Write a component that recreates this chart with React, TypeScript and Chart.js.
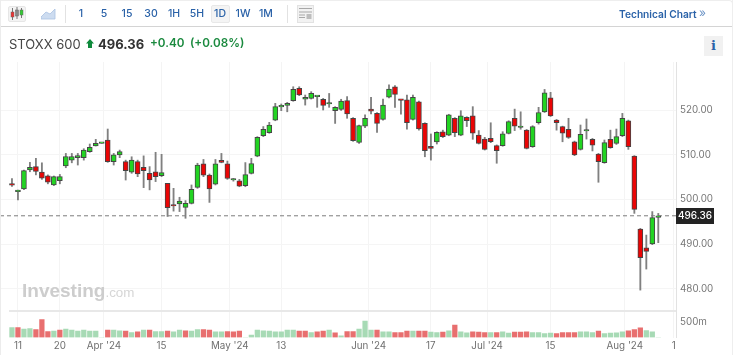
import React, { useEffect, useRef } from "react";
import { Chart, registerables } from "chart.js";

Chart.register(...registerables);

const opens = [503.4,501.75,502.35,506.6,507.35,506.1,505.3,503.25,504.2,507.5,508.8,509.35,509.35,510.7,512.0,512.55,513.3,508.45,509.95,508.45,506.1,508.45,507.2,505.85,506.2,505.35,503.6,498.6,499.0,498.25,499.15,502.7,507.95,505.45,503.45,508.75,507.95,504.35,504.15,503.1,505.85,509.7,514.25,514.95,517.75,520.7,521.05,522.1,524.85,522.4,522.6,523.0,522.4,521.35,519.85,520.15,522.1,518.15,512.75,516.4,520.2,519.25,517.9,522.85,525.2,522.2,522.25,517.9,521.85,517.0,511.9,512.85,515.15,514.4,518.15,514.4,518.35,518.7,514.4,513.5,513.65,512.05,512.05,514.75,518.15,516.1,515.5,511.8,517.15,519.6,522.75,517.75,516.3,515.7,512.9,511.2,515.3,513.45,510.15,508.25,513.45,512.55,514.25,517.6,509.7,493.4,489.2,490.05,496.0];
const highs = [504.7,502.1,506.6,508.3,509.2,508.2,505.5,505.25,505.6,510.3,510.3,510.3,511.35,512.4,513.45,512.55,515.75,510.3,511.05,508.8,509.55,508.8,509.75,507.35,510.55,510.1,503.6,502.5,500.5,499.75,503.25,508.1,508.95,505.7,508.95,510.3,508.6,504.7,504.5,508.25,509.2,514.05,516.3,517.25,521.5,521.35,521.7,525.2,525.2,523.35,524.1,523.15,522.6,523.7,520.75,522.4,523.0,518.3,516.65,518.9,522.85,519.45,522.45,525.6,525.45,522.25,523.35,523.35,522.0,517.15,514.65,515.15,515.5,519.05,518.3,519.85,518.5,520.75,515.4,513.9,517.15,512.2,515.15,517.6,520.2,519.6,515.65,516.5,520.6,524.6,523.95,517.9,516.4,518.15,513.05,516.65,518.0,513.65,510.3,513.3,515.5,515.75,519.25,517.75,509.8,493.55,492.05,497.3,496.9];
const lows = [502.9,499.9,502.2,506.2,505.5,504.5,503.5,503.1,503.5,507.1,508.2,507.7,508.8,510.55,511.95,512.55,508.3,507.7,509.35,504.35,505.85,505.1,502.65,502.15,504.0,505.1,496.2,497.4,497.3,495.8,499.0,502.5,505.1,499.35,503.25,508.2,504.5,504.1,502.85,502.85,505.7,509.55,514.05,514.8,517.6,519.85,519.6,521.95,523.2,521.1,522.45,520.6,520.0,520.6,517.0,519.9,518.15,513.0,512.55,516.05,519.1,515.0,517.75,522.7,520.6,519.05,515.7,517.75,515.5,509.55,508.8,512.4,513.85,514.25,514.05,514.25,516.3,513.45,512.4,511.05,512.7,508.1,511.9,514.65,515.4,515.7,511.3,511.65,516.85,519.45,518.55,515.5,512.9,513.65,509.8,511.05,513.5,510.85,503.85,508.1,511.45,512.3,514.05,511.2,496.9,479.75,484.45,489.9,490.35];
const closes = [503.2,501.75,506.45,507.2,506.25,504.75,503.85,505.1,505.1,509.6,509.6,509.8,511.05,511.65,512.55,512.55,508.45,510.0,510.7,506.45,508.8,505.7,506.45,504.35,505.1,506.0,498.2,498.55,499.65,499.15,502.25,507.7,505.45,502.35,507.95,508.3,504.7,504.35,503.0,505.55,508.05,513.9,515.7,516.65,520.75,520.75,521.5,524.6,523.4,522.85,523.7,523.0,521.05,521.35,520.6,522.0,519.1,513.15,516.5,518.15,519.75,517.0,521.1,524.7,523.5,522.15,517.15,522.85,515.75,510.9,511.4,515.0,514.05,518.9,514.95,518.7,517.6,514.8,512.55,511.2,512.9,510.9,514.65,517.4,516.4,516.1,511.4,516.3,519.45,523.85,518.7,517.15,514.8,513.9,509.95,514.55,515.3,512.15,508.45,512.7,511.6,514.05,518.15,511.8,497.8,487.0,488.4,495.95,496.36];
const volumes = [327,327,273,294,262,589,196,207,240,273,240,207,240,207,207,0,240,240,218,207,164,185,240,240,196,196,207,185,240,218,207,262,262,240,185,185,196,185,207,0,76,240,218,207,185,185,240,240,207,207,164,185,207,240,153,55,196,196,273,534,240,240,185,185,164,164,207,207,207,207,174,164,174,218,403,185,153,185,174,164,164,164,185,142,174,174,185,164,164,131,142,131,164,164,164,185,185,164,207,131,142,153,185,218,262,316,229,185,0];
const volumeUp = [1,0,1,1,0,0,0,1,0,1,1,1,1,1,1,1,0,1,1,0,1,0,1,0,1,1,0,1,1,0,1,1,0,0,1,1,0,0,0,1,1,1,1,1,1,1,1,1,0,0,1,0,0,1,0,1,0,0,1,1,1,0,1,1,0,0,0,1,0,0,1,1,0,1,0,1,1,0,0,0,1,0,1,1,0,0,0,1,1,1,1,0,0,0,0,1,1,1,0,1,1,1,1,0,0,0,1,1,1];
const tickIndex = [1,8,15.37,25,36.4,45,59.6,70,79.4,90,102.4,110.6];
const tickLabels = ["11","20","Apr '24","15","May '24","13","Jun '24","17","Jul '24","15","Aug '24","1"];
const priceTicks = [480,490,500,510,520];
const volumeTicks = [500];
const lastPrice = 496.36;
const intervals = ["1","5","15","30","1H","5H","1D","1W","1M"];

const FONT = "Inter, 'Liberation Sans', sans-serif";

const lastTag = {
  id: "lastTag",
  afterDraw(chart: any) {
    const { ctx, scales, chartArea } = chart;
    const y = scales.y.getPixelForValue(lastPrice);
    ctx.save();
    ctx.fillStyle = "#232323";
    ctx.fillRect(chartArea.right, Math.round(y) - 8, 38, 16);
    ctx.fillStyle = "#fff";
    ctx.font = "500 10px " + FONT;
    ctx.textAlign = "center";
    ctx.textBaseline = "middle";
    ctx.fillText(lastPrice.toFixed(2), chartArea.right + 19, y + 0.5);
    ctx.restore();
  },
};

export default function App() {
  const ref = useRef<HTMLCanvasElement>(null);
  useEffect(() => {
    const idx = opens.map((_, i) => i);
    const fixWidth = (w: number) => (s: any) => { s.width = w; s.paddingTop = 0; s.paddingBottom = 0; };
    const chart = new Chart(ref.current!, {
      type: "bar",
      data: {
        datasets: [
          {
            label: "Volume",
            yAxisID: "v",
            grouped: false,
            barThickness: 4.6,
            data: idx.map((i) => ({ x: i, y: volumes[i] })),
            backgroundColor: idx.map((i) => (volumeUp[i] ? "#a7dab5" : "#e86f6f")),
            order: 4,
          },
          {
            type: "line",
            label: "Last",
            yAxisID: "y",
            data: [{ x: -2, y: lastPrice }, { x: 111, y: lastPrice }],
            borderColor: "#7c7c7c",
            borderWidth: 1,
            borderDash: [4, 3],
            pointRadius: 0,
            order: 3,
          },
          {
            label: "Range",
            yAxisID: "y",
            grouped: false,
            barThickness: 1.2,
            data: idx.map((i) => ({ x: i, y: [lows[i], highs[i]] })),
            backgroundColor: "#808080",
            order: 2,
          },
          {
            label: "Body",
            yAxisID: "y",
            grouped: false,
            barThickness: 5,
            minBarLength: 1.5,
            borderSkipped: false,
            borderWidth: 1,
            borderColor: "#454545",
            data: idx.map((i) => ({ x: i, y: [opens[i], closes[i]] })),
            backgroundColor: idx.map((i) => (closes[i] >= opens[i] ? "#22d422" : "#ea0505")),
            order: 1,
          },
        ] as any,
      },
      options: {
        responsive: false,
        animation: false,
        events: [],
        layout: { autoPadding: false, padding: { top: 62, left: 0, right: 0, bottom: 0 } },
        plugins: { legend: { display: false }, tooltip: { enabled: false } },
        scales: {
          x: {
            type: "linear",
            offset: false,
            min: -2,
            max: 110.96,
            afterBuildTicks: (s: any) => { s.ticks = tickIndex.map((value) => ({ value })); },
            afterFit: (s: any) => { s.height = 17.5; s.paddingLeft = 0; s.paddingRight = 0; },
            ticks: {
              autoSkip: false,
              maxRotation: 0,
              padding: 3,
              color: "#6f6f6f",
              font: { family: FONT, size: 9.8 },
              callback: (v: any) => tickLabels[tickIndex.indexOf(v)] ?? "",
            },
            grid: { offset: false, color: "#f4f4f4", drawTicks: false },
            border: { display: false },
          },
          y: {
            position: "right",
            stack: "pane",
            stackWeight: 249,
            min: 475.08,
            max: 530.73,
            afterBuildTicks: (s: any) => { s.ticks = priceTicks.map((value) => ({ value })); },
            afterFit: fixWidth(61),
            ticks: {
              padding: 4,
              color: "#777",
              font: { family: FONT, size: 9.8 },
              callback: (v: any) => Number(v).toFixed(2),
            },
            grid: { color: "#f5f5f5", drawTicks: false },
            border: { color: "#e2e2e2" },
          },
          v: {
            position: "right",
            stack: "pane",
            stackWeight: 26.5,
            min: 0,
            max: 866,
            afterBuildTicks: (s: any) => { s.ticks = volumeTicks.map((value) => ({ value })); },
            afterFit: fixWidth(61),
            ticks: {
              padding: 4,
              color: "#777",
              font: { family: FONT, size: 9.8 },
              callback: (v: any) => v + "m",
            },
            grid: { display: false, drawTicks: false },
            border: { color: "#e2e2e2" },
          },
        },
      } as any,
      plugins: [lastTag],
    });
    return () => chart.destroy();
  }, []);

  const blue = "#2a62a8";
  const abs = (o: React.CSSProperties): React.CSSProperties => ({ position: "absolute", ...o });
  const xs = [81, 104, 127, 151, 174, 197, 220, 243, 266];

  return (
    <div style={abs({ left: 0, top: 0, width: 737, height: 355, overflow: "hidden", background: "#fff", fontFamily: FONT })}>
      <canvas ref={ref} width={737} height={355} style={abs({ left: 0, top: 0, display: "block" })} />
      <div style={abs({ left: 0, top: 0, width: 733, height: 27, borderTop: "1px solid #eee", borderRight: "1px solid #eee", borderRadius: "0 4px 0 0", borderBottom: "1px solid #d4d4d4", boxSizing: "border-box" })} />
      <div style={abs({ left: 0, top: 0, width: 1, height: 355, background: "#ececec" })} />
      <div style={abs({ left: 732, top: 0, width: 1, height: 355, background: "#eeeeee" })} />
      <div style={abs({ left: 8, top: 6, width: 18, height: 16, background: "#f3f3f3", border: "1px solid #e6e6e6", borderRadius: 2, boxSizing: "border-box" })} />
      <svg style={abs({ left: 9, top: 6 })} width={16} height={16}>
        <path d="M3.5 2V14M8 1V13M12.5 2V12" stroke="#777" strokeWidth={1} />
        <rect x={2} y={6} width={3} height={5} fill="#ee3333" stroke="#666" strokeWidth={0.5} />
        <rect x={6.5} y={4} width={3} height={6} fill="#888" stroke="#666" strokeWidth={0.5} />
        <rect x={11} y={4} width={3} height={5} fill="#33cc33" stroke="#666" strokeWidth={0.5} />
      </svg>
      <svg style={abs({ left: 41, top: 8 })} width={15} height={12}>
        <path d="M0 9L5 4L9 6L14 1V11H0Z" fill="#cddcf0" stroke="#a9c2e2" strokeWidth={0.8} />
      </svg>
      <div style={abs({ left: 65, top: 5, width: 1, height: 18, background: "#e2e2e2" })} />
      <div style={abs({ left: 211, top: 5, width: 19, height: 18, background: "#f4f4f4", border: "1px solid #e8e8e8", borderRadius: 2, boxSizing: "border-box" })} />
      {intervals.map((t, i) => (
        <div key={t} style={abs({ left: xs[i] - 15, width: 30, top: 6, height: 16, lineHeight: "16px", textAlign: "center", fontSize: 10.5, fontWeight: 500, color: blue })}>{t}</div>
      ))}
      <div style={abs({ left: 287, top: 5, width: 1, height: 18, background: "#e2e2e2" })} />
      <div style={abs({ left: 297, top: 5, width: 17, height: 18, background: "#f2f2f2", border: "1px solid #e2e2e2", boxSizing: "border-box" })} />
      <svg style={abs({ left: 299, top: 8 })} width={13} height={12}>
        <path d="M0 0.5H13M0 4H13M0 7H6M0 9.5H6" stroke="#a8a8a8" strokeWidth={1.2} />
        <rect x={7.5} y={6} width={5} height={5} fill="#bdbdbd" />
      </svg>
      <div style={abs({ left: 619, top: 6, height: 16, lineHeight: "16px", fontSize: 10.2, fontWeight: 600, color: blue, whiteSpace: "nowrap" })}>Technical Chart</div>
      <div style={abs({ left: 699, top: 5, height: 16, lineHeight: "16px", fontSize: 12, color: "#6d94c6" })}>»</div>
      <div style={abs({ left: 9, top: 35, height: 18, lineHeight: "18px", fontSize: 13, color: "#444", whiteSpace: "nowrap" })}>STOXX 600</div>
      <svg style={abs({ left: 86, top: 39 })} width={8} height={10}>
        <path d="M4 0L8 4.5H6V9H2V4.5H0Z" fill="#0f8a3c" />
      </svg>
      <div style={abs({ left: 98, top: 35, height: 18, lineHeight: "18px", fontSize: 13, fontWeight: 700, color: "#333", whiteSpace: "nowrap" })}>496.36</div>
      <div style={abs({ left: 150, top: 34, height: 18, lineHeight: "18px", fontSize: 11.7, fontWeight: 600, color: "#1b8a3f", whiteSpace: "nowrap" })}>+0.40</div>
      <div style={abs({ left: 190, top: 34, height: 18, lineHeight: "18px", fontSize: 11.7, fontWeight: 600, color: "#1b8a3f", whiteSpace: "nowrap" })}>(+0.08%)</div>
      <div style={abs({ left: 704, top: 36, width: 19, height: 20, lineHeight: "20px", textAlign: "center", background: "#f1f1f1", color: blue, fontFamily: "'DejaVu Serif', serif", fontWeight: 700, fontSize: 13 })}>i</div>
      <div style={abs({ left: 9, top: 310, width: 667, height: 2, background: "#e8e8e8" })} />
      <div style={abs({ left: 22, top: 278, height: 26, lineHeight: "26px", whiteSpace: "nowrap", color: "#cdcdcd", fontFamily: "'Liberation Sans', sans-serif", fontWeight: 700, fontSize: 19 })}>
        Investing<span style={{ fontWeight: 400, fontSize: 13.4, color: "#d6d6d6" }}>.com</span>
      </div>
    </div>
  );
}
